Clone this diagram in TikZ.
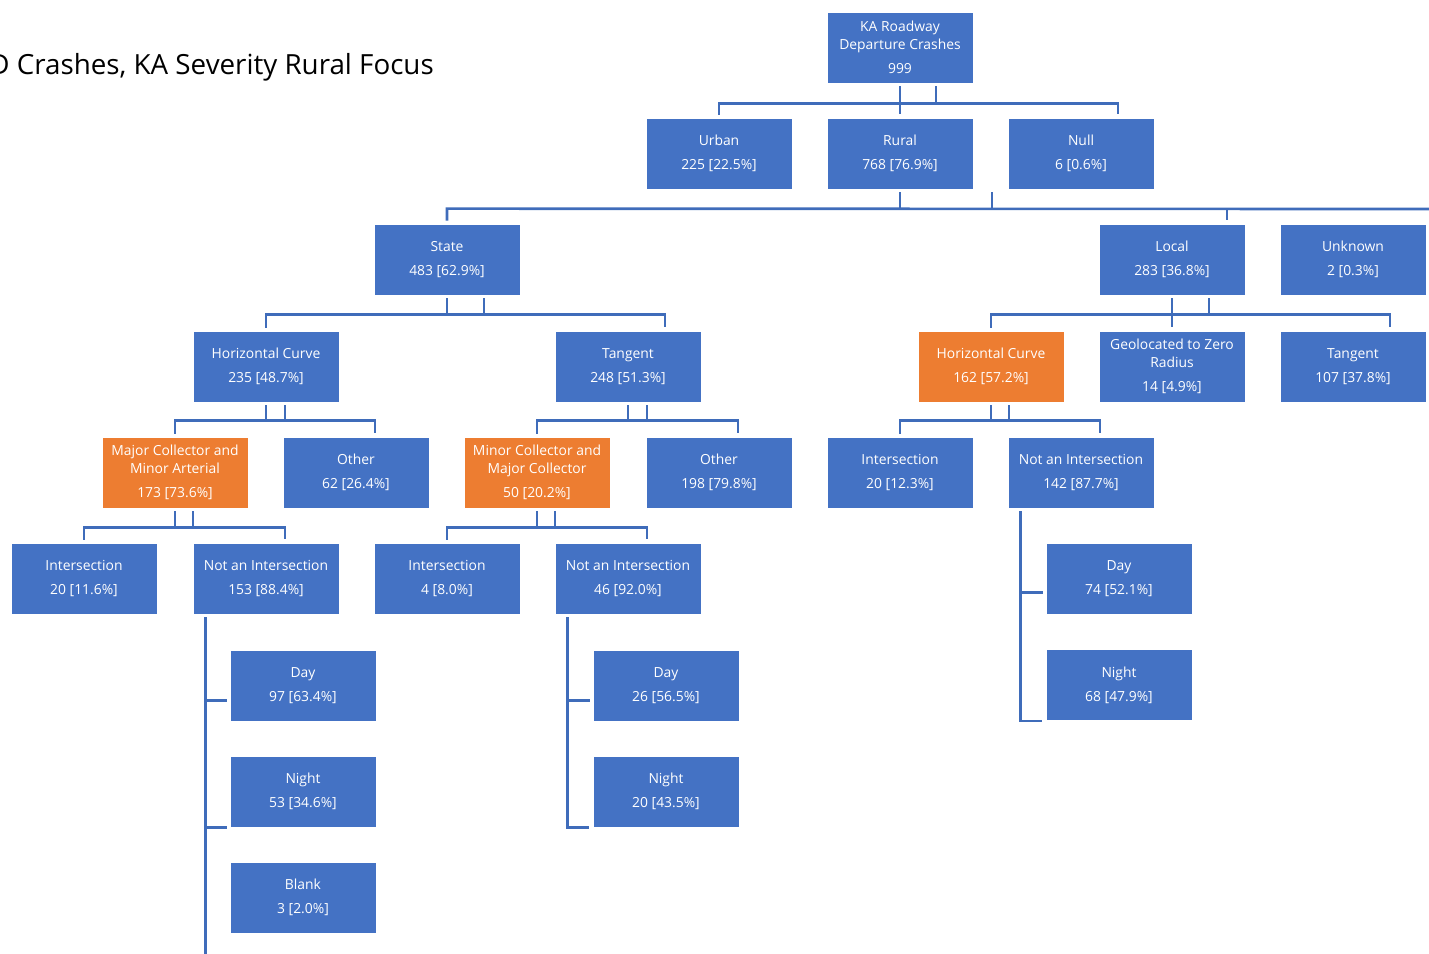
\documentclass[tikz,border=0pt]{standalone}
\usepackage{fontspec}
\setmainfont{Open Sans}
\usetikzlibrary{calc}
\definecolor{boxblue}{HTML}{4472C4}
\definecolor{boxorange}{HTML}{ED7D31}
\definecolor{linkblue}{HTML}{3F6CBA}
\def\boxfont{\fontsize{7.9}{10.2}\selectfont}
\def\titlefont{\fontsize{15.8}{18}\selectfont}
\tikzset{
	box/.style={rectangle, fill=boxblue, draw=white, line width=0.4pt, text=white, minimum width=2.92cm, minimum height=1.42cm, align=center, inner sep=1pt, font=\boxfont},
	hot/.style={box, fill=boxorange},
	link/.style={draw=linkblue, line width=1.5pt},
	gap/.style={shorten <=1.7pt, shorten >=2.3pt}
}
\begin{document}
\begin{tikzpicture}[x=0.02cm, y=-0.02cm]
		%%%%% START %%%%%
		\useasboundingbox (0,0) rectangle (1429,953);
		
		\node[anchor=base east, font=\titlefont] (title) at (440,74) {D Crashes, KA Severity Rural Focus};
		
		\node[box] (root) at (900,47.5) {KA Roadway\\Departure Crashes\\[3.5pt]999};
		
		\node[box] (urban) at (719,153.5) {Urban\\[3.5pt]225 [22.5\%]};
		\node[box] (rural) at (900,153.5) {Rural\\[3.5pt]768 [76.9\%]};
		\node[box] (null) at (1081,153.5) {Null\\[3.5pt]6 [0.6\%]};
		
		\node[box] (state) at (447,259.5) {State\\[3.5pt]483 [62.9\%]};
		\node[box] (local) at (1172,259.5) {Local\\[3.5pt]283 [36.8\%]};
		\node[box] (unknown) at (1353,259.5) {Unknown\\[3.5pt]2 [0.3\%]};
		
		\node[box] (hca) at (266,366.5) {Horizontal Curve\\[3.5pt]235 [48.7\%]};
		\node[box] (tana) at (628,366.5) {Tangent\\[3.5pt]248 [51.3\%]};
		\node[hot] (hcb) at (991,366.5) {Horizontal Curve\\[3.5pt]162 [57.2\%]};
		\node[box] (geo) at (1172,366.5) {Geolocated to Zero\\Radius\\[3.5pt]14 [4.9\%]};
		\node[box] (tanb) at (1353,366.5) {Tangent\\[3.5pt]107 [37.8\%]};
		
		\node[hot] (mcma) at (175,472.5) {Major Collector and\\Minor Arterial\\[3.5pt]173 [73.6\%]};
		\node[box] (otha) at (356,472.5) {Other\\[3.5pt]62 [26.4\%]};
		\node[hot] (mcmc) at (537,472.5) {Minor Collector and\\Major Collector\\[3.5pt]50 [20.2\%]};
		\node[box] (othb) at (719,472.5) {Other\\[3.5pt]198 [79.8\%]};
		\node[box] (intc) at (900,472.5) {Intersection\\[3.5pt]20 [12.3\%]};
		\node[box] (notc) at (1081,472.5) {Not an Intersection\\[3.5pt]142 [87.7\%]};
		
		\node[box] (inta) at (84,578.5) {Intersection\\[3.5pt]20 [11.6\%]};
		\node[box] (nota) at (266,578.5) {Not an Intersection\\[3.5pt]153 [88.4\%]};
		\node[box] (intb) at (447,578.5) {Intersection\\[3.5pt]4 [8.0\%]};
		\node[box] (notb) at (628,578.5) {Not an Intersection\\[3.5pt]46 [92.0\%]};
		\node[box] (dayc) at (1119,578.5) {Day\\[3.5pt]74 [52.1\%]};
		
		\node[box] (daya) at (303,685.5) {Day\\[3.5pt]97 [63.4\%]};
		\node[box] (dayb) at (666,685.5) {Day\\[3.5pt]26 [56.5\%]};
		\node[box] (nightc) at (1119,685) {Night\\[3.5pt]68 [47.9\%]};
		
		\node[box] (nighta) at (303,791.5) {Night\\[3.5pt]53 [34.6\%]};
		\node[box] (nightb) at (666,791.5) {Night\\[3.5pt]20 [43.5\%]};
		
		\node[box] (blanka) at (303,897.5) {Blank\\[3.5pt]3 [2.0\%]};
		
		\coordinate (redge) at (1440,209);
		
		% top
		\draw[link,gap] (root.south) -- (rural.north);
		\draw[link] ($(root.south)+(36,3)$) -- ++(0,18);
		\draw[link,gap] (urban.north) -- ++(0,-14) -| ($(null.north)+(37,0)$);
		
		% rural
		\draw[link] ($(rural.south)+(0,3)$) -- ++(0,17);
		\draw[link] ($(rural.south)+(92,3)$) -- ++(0,17);
		\draw[link,gap] (state.north) -- ++(0,-15) -- (redge);
		\draw[link] ($(local.north)+(55,-15)$) -- ++(0,11);
		
		% state and local
		\draw[link] ($(state.south)+(0,3)$) -- ++(0,17);
		\draw[link] ($(state.south)+(37,3)$) -- ++(0,17);
		\draw[link,gap] (hca.north) -- ++(0,-16) -| ($(tana.north)+(37,0)$);
		\draw[link,gap] (local.south) -- (geo.north);
		\draw[link] ($(local.south)+(37,3)$) -- ++(0,17);
		\draw[link,gap] (hcb.north) -- ++(0,-16) -| ($(tanb.north)+(37,0)$);
		
		% curves and tangents
		\draw[link] ($(hca.south)+(0,3)$) -- ++(0,16);
		\draw[link] ($(hca.south)+(19,3)$) -- ++(0,16);
		\draw[link,gap] (mcma.north) -- ++(0,-16) -| ($(otha.north)+(19,0)$);
		\draw[link] ($(tana.south)+(0,3)$) -- ++(0,16);
		\draw[link] ($(tana.south)+(19,3)$) -- ++(0,16);
		\draw[link,gap] (mcmc.north) -- ++(0,-16) -| ($(othb.north)+(19,0)$);
		\draw[link] ($(hcb.south)+(0,3)$) -- ++(0,16);
		\draw[link] ($(hcb.south)+(18,3)$) -- ++(0,16);
		\draw[link,gap] (intc.north) -- ++(0,-16) -| ($(notc.north)+(19,0)$);
		
		% collectors
		\draw[link] ($(mcma.south)+(0,3)$) -- ++(0,17);
		\draw[link] ($(mcma.south)+(18,3)$) -- ++(0,17);
		\draw[link,gap] (inta.north) -- ++(0,-15) -| ($(nota.north)+(19,0)$);
		\draw[link] ($(mcmc.south)+(0,3)$) -- ++(0,17);
		\draw[link] ($(mcmc.south)+(18,3)$) -- ++(0,17);
		\draw[link,gap] (intb.north) -- ++(0,-15) -| ($(notb.north)+(19,0)$);
		
		% day and night
		\draw[link,gap] ($(nota.south west)+(13,0)$) -- ++(0,345);
		\draw[link] ($(daya.south west)+(-24,-21)$) -- ++(21,0);
		\draw[link] ($(nighta.south west)+(-24,0)$) -- ++(21,0);
		\draw[link,gap] ($(notb.south west)+(13,0)$) |- (nightb.south west);
		\draw[link] ($(dayb.south west)+(-25,-21)$) -- ++(22,0);
		\draw[link,gap] ($(notc.south west)+(13,0)$) |- (nightc.south west);
		\draw[link] ($(dayc.south west)+(-25,-22)$) -- ++(22,0);
		
		%%%%% END %%%%%
	\end{tikzpicture}
\end{document}
